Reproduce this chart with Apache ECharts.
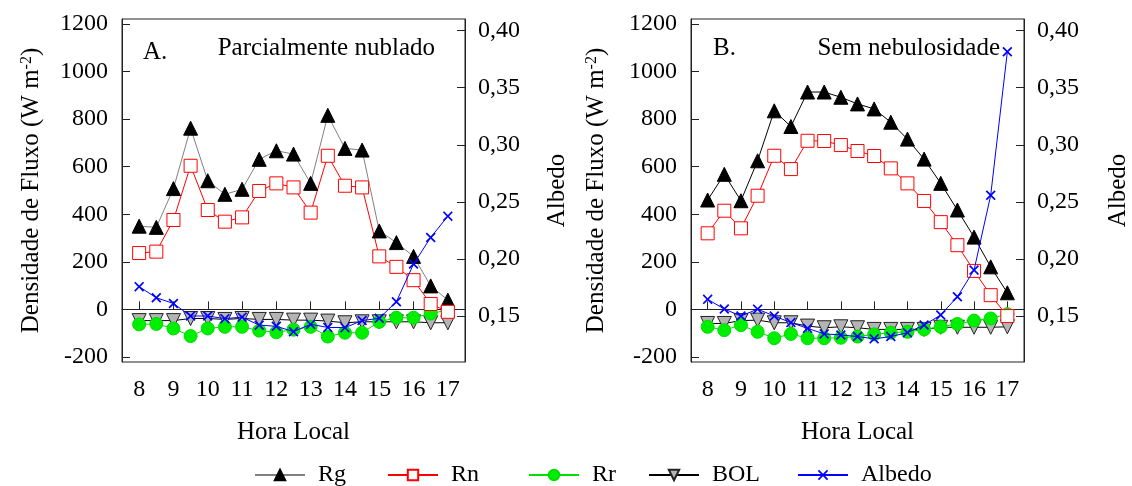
<!DOCTYPE html>
<html>
<head>
<meta charset="utf-8">
<script src="https://cdn.jsdelivr.net/npm/echarts@6/dist/echarts.min.js"></script>
<style>
  html, body { margin: 0; padding: 0; background: #fff; }
  #chart { width: 1132px; height: 486px; }
</style>
</head>
<body>
<div id="chart"></div>
<script>
// horas locais (meia em meia hora)
const hours = [8, 8.5, 9, 9.5, 10, 10.5, 11, 11.5, 12, 12.5, 13, 13.5, 14, 14.5, 15, 15.5, 16, 16.5, 17];
const hourTicks = [8, 9, 10, 11, 12, 13, 14, 15, 16, 17];
const fluxTicks = [-200, 0, 200, 400, 600, 800, 1000, 1200];
const albedoTicks = [0.15, 0.20, 0.25, 0.30, 0.35, 0.40];

// A. Parcialmente nublado
const rgA  = [350, 345, 508, 762, 541, 484, 505, 631, 667, 653, 530, 816, 677, 670, 330, 281, 223, 99, 39];
const rnA  = [237, 243, 376, 604, 418, 369, 387, 498, 530, 513, 407, 646, 520, 513, 223, 179, 123, 23, -10];
const rrA  = [-63, -61, -80, -112, -80, -73, -73, -89, -96, -85, -73, -114, -98, -98, -52, -35, -35, -17, -3];
const bolA = [-47, -47, -47, -38, -38, -42, -38, -42, -42, -45, -45, -49, -56, -52, -52, -52, -52, -56, -56];
const albA = [0.1757, 0.166, 0.161, 0.150, 0.150, 0.1477, 0.149, 0.142, 0.141, 0.1363, 0.1427, 0.140, 0.1398, 0.146, 0.148, 0.1625, 0.1955, 0.2188, 0.2375];

// B. Sem nebulosidade
const rgB  = [460, 568, 457, 625, 835, 769, 914, 914, 892, 864, 843, 787, 716, 632, 530, 418, 304, 179, 70];
const rnB  = [320, 415, 341, 478, 646, 590, 709, 708, 691, 666, 645, 593, 530, 456, 367, 270, 162, 60, -28];
const rrB  = [-73, -87, -66, -94, -121, -103, -121, -121, -119, -114, -105, -98, -94, -84, -73, -61, -47, -38, -20];
const bolB = [-59, -59, -47, -45, -56, -56, -70, -77, -73, -77, -84, -84, -84, -84, -75, -75, -75, -75, -73];
const albB = [0.1646, 0.1561, 0.150, 0.156, 0.150, 0.1442, 0.1392, 0.1343, 0.1334, 0.132, 0.130, 0.132, 0.1354, 0.1421, 0.1509, 0.1669, 0.1902, 0.2558, 0.3815];

const FONT = 'Liberation Serif';
const xSymbol = 'path://M0,1.2L1.2,0L5,3.8L8.8,0L10,1.2L6.2,5L10,8.8L8.8,10L5,6.2L1.2,10L0,8.8L3.8,5Z';

const pair = (arr) => hours.map((h, i) => [h, arr[i]]);

const chart = echarts.init(document.getElementById('chart'), null, { renderer: 'canvas' });

const panels = [
  { left: 122, rg: rgA, rn: rnA, rr: rrA, bol: bolA, alb: albA, rgLine: '#808080', nameGapL: 78, nameGapR: 80 },
  { left: 691, rg: rgB, rn: rnB, rr: rrB, bol: bolB, alb: albB, rgLine: '#000000', nameGapL: 82, nameGapR: 82 }
];

const axisLine = { show: true, lineStyle: { color: '#222', width: 1 } };
const tickStyle = (vals) => ({ show: true, inside: true, length: 8, customValues: vals, lineStyle: { color: '#222' } });

const grid = [], xAxis = [], yAxis = [], series = [];
panels.forEach((p, k) => {
  grid.push({ left: p.left, top: 19, width: 343, height: 343, show: true, borderColor: '#222', borderWidth: 1, backgroundColor: 'transparent' });
  xAxis.push({
    type: 'value', gridIndex: k, min: 7.5, max: 17.5,
    name: 'Hora Local', nameLocation: 'middle', nameGap: 58,
    nameTextStyle: { fontFamily: FONT, fontSize: 25, color: '#000' },
    axisLine: axisLine, axisTick: tickStyle(hourTicks), splitLine: { show: false },
    axisLabel: { customValues: hourTicks, margin: 16, fontFamily: FONT, fontSize: 24, color: '#000',
      formatter: (v) => String(v) }
  });
  yAxis.push({
    type: 'value', gridIndex: k, position: 'left', min: -221, max: 1221,
    name: 'Densidade de Fluxo (W m{sup|-2})', nameLocation: 'middle', nameGap: p.nameGapL, nameRotate: 90,
    nameTextStyle: { fontFamily: FONT, fontSize: 25, color: '#000',
      rich: { sup: { fontFamily: FONT, fontSize: 16, color: '#000', verticalAlign: 'top' } } },
    axisLine: axisLine, axisTick: tickStyle(fluxTicks), splitLine: { show: false },
    axisLabel: { customValues: fluxTicks, margin: 14, fontFamily: FONT, fontSize: 24, color: '#000',
      formatter: (v) => String(v) }
  });
  yAxis.push({
    type: 'value', gridIndex: k, position: 'right', min: 0.1097, max: 0.4102,
    name: 'Albedo', nameLocation: 'middle', nameGap: p.nameGapR, nameRotate: 90,
    nameTextStyle: { fontFamily: FONT, fontSize: 25, color: '#000' },
    axisLine: axisLine, axisTick: tickStyle(albedoTicks), splitLine: { show: false },
    axisLabel: { customValues: albedoTicks, margin: 13, fontFamily: FONT, fontSize: 24, color: '#000',
      formatter: (v) => v.toFixed(2).replace('.', ',') }
  });
  const yl = k * 2, yr = k * 2 + 1;
  series.push(
    { name: 'BOL', type: 'line', xAxisIndex: k, yAxisIndex: yl, data: pair(p.bol),
      symbol: 'triangle', symbolRotate: 180, symbolSize: 14, z: 2,
      lineStyle: { color: '#000', width: 1 },
      itemStyle: { color: '#b4b4b4', borderColor: '#222', borderWidth: 1 } },
    { name: 'Rr', type: 'line', xAxisIndex: k, yAxisIndex: yl, data: pair(p.rr),
      symbol: 'circle', symbolSize: 13, z: 3,
      lineStyle: { color: '#00e000', width: 1 },
      itemStyle: { color: '#00ee00', borderColor: '#00dd00', borderWidth: 1 } },
    { name: 'Rg', type: 'line', xAxisIndex: k, yAxisIndex: yl, data: pair(p.rg),
      symbol: 'triangle', symbolSize: 14, z: 4,
      lineStyle: { color: p.rgLine, width: 1 },
      itemStyle: { color: '#000', borderColor: '#000', borderWidth: 1 } },
    { name: 'Rn', type: 'line', xAxisIndex: k, yAxisIndex: yl, data: pair(p.rn),
      symbol: 'rect', symbolSize: 13, z: 4,
      lineStyle: { color: '#ff0000', width: 1 },
      itemStyle: { color: '#fff', borderColor: '#ff0000', borderWidth: 1 } },
    { name: 'Albedo', type: 'line', xAxisIndex: k, yAxisIndex: yr, data: pair(p.alb),
      symbol: xSymbol, symbolSize: 10, z: 5,
      lineStyle: { color: '#0000ff', width: 1 },
      itemStyle: { color: '#0000ff' } }
  );
});

// legenda: cada item na sua posicao
const legendItems = [['Rg', 254], ['Rn', 387], ['Rr', 528], ['BOL', 648], ['Albedo', 797]];
const legend = legendItems.map(([name, left]) => ({
  data: [name], left: left, top: 463, padding: 0, itemWidth: 50, itemHeight: 13, itemGap: 0,
  selectedMode: false,
  textStyle: { fontFamily: FONT, fontSize: 24, color: '#000', padding: [0, 0, 0, 8] }
}));

const title = [
  { text: 'A.', left: 138, top: 35 },
  { text: 'Parcialmente nublado', right: 692, top: 31 },
  { text: 'B.', left: 708, top: 31 },
  { text: 'Sem nebulosidade', right: 127, top: 31 }
].map(t => Object.assign(t, { textStyle: { fontFamily: FONT, fontSize: 25, fontWeight: 'normal', color: '#000' } }));

chart.setOption({
  animation: false,
  backgroundColor: '#fff',
  title: title,
  legend: legend,
  grid: grid,
  xAxis: xAxis,
  yAxis: yAxis,
  series: series
});
</script>
</body>
</html>
